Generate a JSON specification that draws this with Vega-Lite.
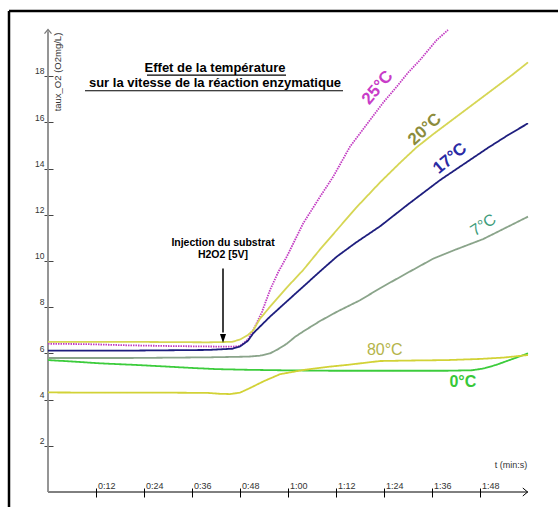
{
  "$schema": "https://vega.github.io/schema/vega-lite/v6.json",
  "autosize": "none",
  "width": 480,
  "height": 462,
  "padding": {"left": 48, "top": 30, "right": 30, "bottom": 15},
  "background": "white",
  "config": {"view": {"stroke": null}, "font": "Liberation Sans"},
  "datasets": {
    "curves": [
      {"s":"25°C","t":0,"v":6.42},{"s":"25°C","t":10,"v":6.4},{"s":"25°C","t":20,"v":6.35},{"s":"25°C","t":30,"v":6.32},{"s":"25°C","t":40,"v":6.3},{"s":"25°C","t":46,"v":6.29},{"s":"25°C","t":48,"v":6.32},{"s":"25°C","t":50,"v":6.6},{"s":"25°C","t":51.3,"v":7.0},{"s":"25°C","t":53.5,"v":7.8},{"s":"25°C","t":55.5,"v":8.74},{"s":"25°C","t":57.5,"v":9.5},{"s":"25°C","t":59.7,"v":10.19},{"s":"25°C","t":63.8,"v":11.63},{"s":"25°C","t":68,"v":12.78},{"s":"25°C","t":71.3,"v":13.65},{"s":"25°C","t":75.5,"v":14.95},{"s":"25°C","t":80.5,"v":16.1},{"s":"25°C","t":84,"v":16.9},{"s":"25°C","t":87.2,"v":17.55},{"s":"25°C","t":90,"v":18.15},{"s":"25°C","t":93,"v":18.7},{"s":"25°C","t":97.2,"v":19.57},{"s":"25°C","t":100,"v":20.0},
      {"s":"20°C","t":0,"v":6.5},{"s":"20°C","t":20,"v":6.5},{"s":"20°C","t":40,"v":6.48},{"s":"20°C","t":46,"v":6.5},{"s":"20°C","t":48,"v":6.6},{"s":"20°C","t":50,"v":6.8},{"s":"20°C","t":51.3,"v":7.0},{"s":"20°C","t":53,"v":7.5},{"s":"20°C","t":55.5,"v":8.02},{"s":"20°C","t":59.7,"v":8.85},{"s":"20°C","t":63.8,"v":9.61},{"s":"20°C","t":68,"v":10.5},{"s":"20°C","t":72.2,"v":11.34},{"s":"20°C","t":77,"v":12.3},{"s":"20°C","t":83,"v":13.4},{"s":"20°C","t":88,"v":14.25},{"s":"20°C","t":92,"v":14.9},{"s":"20°C","t":96,"v":15.45},{"s":"20°C","t":101,"v":16.1},{"s":"20°C","t":106,"v":16.75},{"s":"20°C","t":111,"v":17.4},{"s":"20°C","t":116,"v":18.05},{"s":"20°C","t":120,"v":18.6},
      {"s":"17°C","t":0,"v":6.12},{"s":"17°C","t":20,"v":6.12},{"s":"17°C","t":40,"v":6.15},{"s":"17°C","t":46,"v":6.2},{"s":"17°C","t":48,"v":6.3},{"s":"17°C","t":50,"v":6.55},{"s":"17°C","t":51.3,"v":6.87},{"s":"17°C","t":55.5,"v":7.59},{"s":"17°C","t":59.7,"v":8.25},{"s":"17°C","t":63.8,"v":8.89},{"s":"17°C","t":68,"v":9.55},{"s":"17°C","t":72.2,"v":10.19},{"s":"17°C","t":77,"v":10.8},{"s":"17°C","t":83,"v":11.5},{"s":"17°C","t":90,"v":12.45},{"s":"17°C","t":98,"v":13.5},{"s":"17°C","t":104,"v":14.2},{"s":"17°C","t":110,"v":14.9},{"s":"17°C","t":115,"v":15.45},{"s":"17°C","t":120,"v":15.96},
      {"s":"7°C","t":0,"v":5.8},{"s":"7°C","t":20,"v":5.8},{"s":"7°C","t":40,"v":5.83},{"s":"7°C","t":50,"v":5.86},{"s":"7°C","t":53,"v":5.9},{"s":"7°C","t":55.5,"v":6.0},{"s":"7°C","t":57.5,"v":6.18},{"s":"7°C","t":59.7,"v":6.42},{"s":"7°C","t":61.8,"v":6.72},{"s":"7°C","t":63.8,"v":6.95},{"s":"7°C","t":68,"v":7.4},{"s":"7°C","t":72.2,"v":7.8},{"s":"7°C","t":78,"v":8.3},{"s":"7°C","t":83,"v":8.82},{"s":"7°C","t":90,"v":9.5},{"s":"7°C","t":96.3,"v":10.1},{"s":"7°C","t":102,"v":10.5},{"s":"7°C","t":108.8,"v":10.95},{"s":"7°C","t":114,"v":11.4},{"s":"7°C","t":120,"v":11.92},
      {"s":"0°C","t":0,"v":5.71},{"s":"0°C","t":6,"v":5.65},{"s":"0°C","t":13,"v":5.57},{"s":"0°C","t":22,"v":5.5},{"s":"0°C","t":29.7,"v":5.43},{"s":"0°C","t":36,"v":5.37},{"s":"0°C","t":42,"v":5.32},{"s":"0°C","t":50,"v":5.29},{"s":"0°C","t":58,"v":5.27},{"s":"0°C","t":70,"v":5.25},{"s":"0°C","t":85,"v":5.25},{"s":"0°C","t":100,"v":5.25},{"s":"0°C","t":106,"v":5.27},{"s":"0°C","t":109,"v":5.35},{"s":"0°C","t":112,"v":5.5},{"s":"0°C","t":116,"v":5.75},{"s":"0°C","t":120,"v":6.0},
      {"s":"80°C","t":0,"v":4.31},{"s":"80°C","t":15,"v":4.3},{"s":"80°C","t":30,"v":4.3},{"s":"80°C","t":40,"v":4.29},{"s":"80°C","t":43,"v":4.25},{"s":"80°C","t":45.5,"v":4.24},{"s":"80°C","t":48,"v":4.3},{"s":"80°C","t":50.5,"v":4.5},{"s":"80°C","t":54,"v":4.8},{"s":"80°C","t":58,"v":5.1},{"s":"80°C","t":63.8,"v":5.28},{"s":"80°C","t":70,"v":5.42},{"s":"80°C","t":74.7,"v":5.5},{"s":"80°C","t":83,"v":5.67},{"s":"80°C","t":90,"v":5.69},{"s":"80°C","t":99.7,"v":5.71},{"s":"80°C","t":108,"v":5.76},{"s":"80°C","t":114,"v":5.82},{"s":"80°C","t":120,"v":5.93}
    ],
    "labels": [
      {"lab":"25°C","t":82.4,"v":17.5},
      {"lab":"20°C","t":94.2,"v":15.7},
      {"lab":"17°C","t":100.5,"v":14.44},
      {"lab":"7°C","t":108.8,"v":11.56},
      {"lab":"80°C","t":84.2,"v":6.15},
      {"lab":"0°C","t":103.7,"v":4.78}
    ]
  },
  "encoding": {
    "x": {"field":"t","type":"quantitative","scale":{"domain":[0,120],"nice":false,"zero":false},
      "axis": {"values":[12,24,36,48,60,72,84,96,108],
        "labelExpr": "floor(datum.value/60) + ':' + (datum.value%60 < 10 ? '0' : '') + (datum.value%60)",
        "domain": false, "grid": false, "offset": -4, "tickSize": 9, "tickColor": "#000", "tickWidth": 1,
        "labelAlign": "left", "labelBaseline": "alphabetic", "labelPadding": -8.5, "labelOffset": 1.5,
        "labelFontSize": 9, "labelFont": "Liberation Sans", "labelColor": "#333", "labelFlush": false, "labelOverlap": false, "title": null}},
    "y": {"field":"v","type":"quantitative","scale":{"domain":[0,20],"nice":false,"zero":false},
      "axis": {"values":[2,4,6,8,10,12,14,16,18],
        "domain": false, "grid": false, "offset": -5, "tickSize": 9, "tickColor": "#444", "tickWidth": 1,
        "labelAlign": "right", "labelBaseline": "alphabetic", "labelPadding": 0, "labelOffset": -2.4,
        "labelFontSize": 8.5, "labelFont": "Liberation Sans", "labelColor": "#333", "labelFlush": false, "labelOverlap": false, "title": null}}
  },
  "layer": [
    {
      "data": {"values": [{"t":-9.75,"t2":140,"v":20.82,"v2":20.82},{"t":-9.75,"t2":-9.75,"v":20.82,"v2":-2}]},
      "mark": {"type": "rule", "color": "#000", "strokeWidth": 2.5, "clip": false},
      "encoding": {"x2": {"field":"t2"}, "y2": {"field":"v2"}}
    },
    {
      "data": {"values": [{"t":0,"t2":120,"v":0,"v2":0}]},
      "mark": {"type": "rule", "color": "#000", "strokeWidth": 1},
      "encoding": {"x2": {"field":"t2"}, "y2": {"field":"v2"}}
    },
    {
      "data": {"values": [{"t":0,"t2":0,"v":0,"v2":19.95}]},
      "mark": {"type": "rule", "color": "#8a8a8a", "strokeWidth": 1.8},
      "encoding": {"x2": {"field":"t2"}, "y2": {"field":"v2"}}
    },
    {
      "data": {"name": "curves"},
      "mark": {"type": "line", "strokeWidth": 1.8, "clip": false},
      "encoding": {
        "stroke": {"field":"s","type":"nominal","legend":null,
          "scale":{"domain":["25°C","20°C","17°C","7°C","0°C","80°C"],"range":["#c23ac2","#d6d654","#1e1e7e","#8aa48a","#3ccc3c","#d2d236"]}},
        "strokeDash": {"field":"s","type":"nominal","legend":null,
          "scale":{"domain":["25°C","20°C","17°C","7°C","0°C","80°C"],"range":[[1.5,1],[1,0],[1,0],[1,0],[1,0],[1,0]]}}
      }
    },
    {
      "data": {"values": [{"t":43.75,"v":9.68,"v2":6.9}]},
      "mark": {"type": "rule", "color": "#000", "strokeWidth": 1.5},
      "encoding": {"y2": {"field":"v2"}}
    },
    {
      "data": {"values": [{"t":43.75,"v":6.65}]},
      "mark": {"type": "point", "shape": "M-0.67,-1L0.67,-1L0,1Z", "size": 81, "filled": true, "color": "#000", "opacity": 1}
    },
    {
      "data": {"values": [{"t":119.3,"v":0}]},
      "mark": {"type": "point", "shape": "M-0.6,-1L0.6,0L-0.6,1", "size": 64, "filled": false, "stroke": "#000", "strokeWidth": 1, "opacity": 1, "clip": false}
    },
    {
      "data": {"values": [{"t":0,"v":19.93}]},
      "mark": {"type": "point", "shape": "M-1,0.6L0,-0.6L1,0.6", "size": 49, "filled": false, "stroke": "#777", "strokeWidth": 1.2, "opacity": 1, "clip": false}
    },
    {
      "data": {"values": [{"t":24.75,"t2":59.5,"v":18.05},{"t":9.25,"t2":73.75,"v":17.37}]},
      "mark": {"type": "rule", "color": "#000", "strokeWidth": 1.2},
      "encoding": {"x2": {"field":"t2"}}
    },
    {
      "data": {"values": [{"txt":"Effet de la température","t":41.75,"v":18.34},{"txt":"sur la vitesse de la réaction enzymatique","t":41.75,"v":17.69}]},
      "mark": {"type": "text", "font": "Liberation Sans", "fontSize": 13, "fontWeight": "bold", "color": "#000", "align": "center", "baseline": "middle"},
      "encoding": {"text": {"field":"txt"}}
    },
    {
      "data": {"values": [{"txt":"Injection du substrat","t":43.75,"v":10.8},{"txt":"H2O2 [5V]","t":43.75,"v":10.28}]},
      "mark": {"type": "text", "font": "Liberation Sans", "fontSize": 10.5, "fontWeight": "bold", "color": "#000", "align": "center", "baseline": "middle"},
      "encoding": {"text": {"field":"txt"}}
    },
    {
      "data": {"values": [{"txt":"taux_O2 (O2mg/L)","t":2.4,"v":18.18}]},
      "mark": {"type": "text", "font": "Liberation Sans", "fontSize": 9.5, "color": "#333", "align": "center", "baseline": "middle", "angle": 270},
      "encoding": {"text": {"field":"txt"}}
    },
    {
      "data": {"values": [{"txt":"t (min:s)","t":115.75,"v":1.17}]},
      "mark": {"type": "text", "font": "Liberation Sans", "fontSize": 9, "color": "#333", "align": "center", "baseline": "middle"},
      "encoding": {"text": {"field":"txt"}}
    },
    {
      "data": {"name": "labels"},
      "transform": [{"filter": "datum.lab == '25°C'"}],
      "mark": {"type": "text", "font": "Liberation Sans", "fontSize": 17, "fontWeight": "bold", "color": "#c83cc8", "align": "center", "baseline": "middle", "angle": -50},
      "encoding": {"text": {"field":"lab"}}
    },
    {
      "data": {"name": "labels"},
      "transform": [{"filter": "datum.lab == '20°C'"}],
      "mark": {"type": "text", "font": "Liberation Sans", "fontSize": 17, "fontWeight": "bold", "color": "#8c8c3c", "align": "center", "baseline": "middle", "angle": -43},
      "encoding": {"text": {"field":"lab"}}
    },
    {
      "data": {"name": "labels"},
      "transform": [{"filter": "datum.lab == '17°C'"}],
      "mark": {"type": "text", "font": "Liberation Sans", "fontSize": 17, "fontWeight": "bold", "color": "#2a2aa4", "align": "center", "baseline": "middle", "angle": -40},
      "encoding": {"text": {"field":"lab"}}
    },
    {
      "data": {"name": "labels"},
      "transform": [{"filter": "datum.lab == '7°C'"}],
      "mark": {"type": "text", "font": "Liberation Sans", "fontSize": 16, "color": "#3e9c7a", "align": "center", "baseline": "middle", "angle": -33},
      "encoding": {"text": {"field":"lab"}}
    },
    {
      "data": {"name": "labels"},
      "transform": [{"filter": "datum.lab == '80°C'"}],
      "mark": {"type": "text", "font": "Liberation Sans", "fontSize": 16, "color": "#b4b44a", "align": "center", "baseline": "middle"},
      "encoding": {"text": {"field":"lab"}}
    },
    {
      "data": {"name": "labels"},
      "transform": [{"filter": "datum.lab == '0°C'"}],
      "mark": {"type": "text", "font": "Liberation Sans", "fontSize": 16, "fontWeight": "bold", "color": "#38c838", "align": "center", "baseline": "middle"},
      "encoding": {"text": {"field":"lab"}}
    }
  ]
}
